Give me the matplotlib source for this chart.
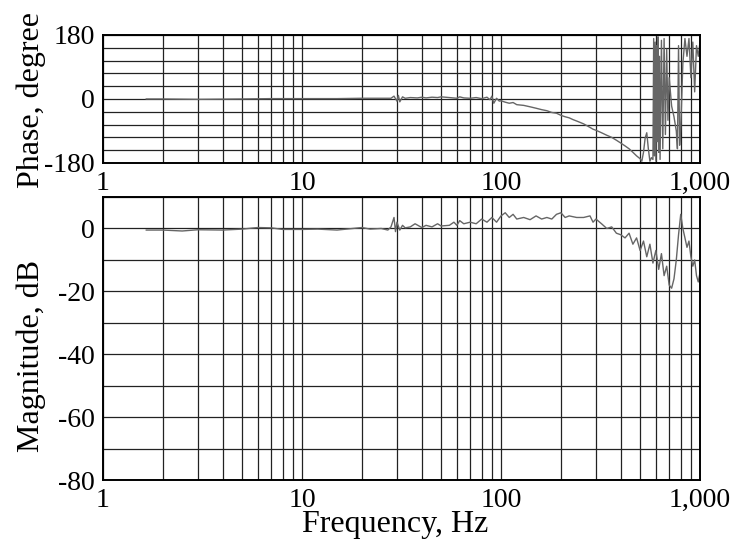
import numpy as np
import matplotlib.pyplot as plt
from matplotlib.ticker import FixedLocator, MultipleLocator, NullFormatter

plt.rcParams['font.family'] = ['Liberation Serif', 'DejaVu Serif']
plt.rcParams['axes.unicode_minus'] = False

# phase response, Hz / degree
phase_f = [1.65, 2, 3, 5, 7, 10, 15, 20, 25, 28, 29, 30, 30.5, 31, 32, 33, 35, 38,
           40, 42, 45, 48, 50, 55, 60, 62, 65, 70, 75, 80, 85, 88, 90, 92, 95, 98,
           100, 105, 110, 115, 120, 130, 140, 150, 160, 170, 180, 190, 200, 210,
           220, 230, 240, 250, 260, 270, 280, 290, 300, 320, 340, 360, 380, 400,
           420, 440, 460, 480, 500, 510, 520, 530, 540, 550, 560, 570, 580, 585,
           590, 595, 600, 605, 610, 615, 620, 625, 630, 640, 650, 660, 670, 680,
           690, 700, 720, 740, 760, 770, 780, 790, 800, 820, 840, 860, 880, 900,
           920, 940, 960, 980, 1000]
phase_deg = [0, 0, -1, 0, 1, 1, 1, 2, 2, 2, 8, -6, 10, -8, 6, 2, 4, 3,
             5, 3, 5, 4, 6, 4, 2, 6, 3, 2, 4, 1, 5, -2, 8, -12, 2, -6,
             -5, -9, -12, -10, -16, -18, -22, -26, -30, -33, -38, -40, -46, -50,
             -53, -58, -62, -66, -70, -75, -80, -85, -88, -95, -102, -108, -116, -124,
             -132, -140, -150, -160, -168, -175, -150, -110, -95, -140, -175, -165, -170, 170,
             -160, 160, -175, 150, -120, 175, -150, 120, -170, 165, -140, 170, -100, 140,
             -60, 60, -20, -50, -90, -140, 150, -130, -80, 100, 170, 120, 170, 60,
             160, 20, 150, 120, 160]

# magnitude response, Hz / dB
mag_f = [1.65, 2, 2.5, 3, 4, 5, 6, 7, 8, 10, 12, 15, 18, 20, 22, 25, 27, 28, 29,
         29.5, 30, 31, 32, 33, 35, 37, 40, 42, 45, 48, 50, 55, 58, 60, 62, 65, 70,
         75, 80, 85, 90, 95, 100, 105, 110, 115, 120, 130, 140, 150, 160, 170,
         180, 190, 200, 210, 220, 240, 260, 280, 290, 300, 320, 340, 360, 380,
         400, 420, 440, 460, 480, 500, 520, 540, 560, 580, 600, 620, 640, 660,
         680, 700, 720, 740, 760, 780, 800, 820, 840, 860, 880, 900, 920, 940,
         960, 980, 1000]
mag_db = [-0.5, -0.5, -0.8, -0.4, -0.5, -0.2, 0.3, 0.2, -0.3, -0.3, -0.2, -0.5, 0, 0.3, -0.2, 0, -0.5, 0.5, 3.5,
          -1, 2, -0.5, 1, 0.2, 0.5, 1.5, 0.3, 1, 0.5, 1.5, 0.8, 1, 2, 1, 2.5, 1.5, 2,
          1.5, 3, 2, 3.5, 2, 4, 5, 3.5, 4.5, 3, 3.5, 2.8, 4, 3, 3.5,
          3, 4.5, 5, 3.5, 4, 3.5, 3.5, 4, 2, 3, 1.5, 0, 0.5, -1.5,
          -2, -3, -1.5, -5, -3, -7, -4, -9, -5, -11, -7, -13, -8, -15,
          -12, -18, -19, -16, -10, -2, 4.5, 0, -3, -6, -4, -9, -12, -10,
          -15, -17, -14]

xticks = [1, 10, 100, 1000]
xlabels = ['1', '10', '100', '1,000']

fig = plt.figure(figsize=(7.33, 5.44), dpi=100)
ax1 = fig.add_axes([0.1405, 0.7004, 0.8145, 0.2353])
ax2 = fig.add_axes([0.1405, 0.1176, 0.8145, 0.5202])

line_kw = dict(color='#666666', lw=1.0)
ax1.plot(phase_f, phase_deg, **line_kw)
ax2.plot(mag_f, mag_db, **line_kw)

for ax in (ax1, ax2):
    ax.set_xscale('log')
    ax.set_xlim(1, 1000)
    ax.xaxis.set_major_locator(FixedLocator(xticks))
    ax.set_xticklabels(xlabels)
    ax.xaxis.set_minor_locator(FixedLocator([m * d for d in (1, 10, 100) for m in range(2, 10)]))
    ax.xaxis.set_minor_formatter(NullFormatter())
    ax.grid(True, which='both', color='#222222', lw=0.9)
    ax.tick_params(which='both', length=0, labelsize=20, pad=6)
    for s in ax.spines.values():
        s.set_linewidth(1.4)

ax1.set_ylim(-180, 180)
ax1.set_yticks([-180, 0, 180])
ax1.set_yticklabels(['-180', '0', '180'])
ax1.yaxis.set_minor_locator(MultipleLocator(36))
ax1.set_ylabel('Phase, degree', fontsize=23)
ax1.yaxis.set_label_coords(-0.096, 0.49)

ax2.set_ylim(-80, 10)
ax2.set_yticks([0, -20, -40, -60, -80])
ax2.set_yticklabels(['0', '-20', '-40', '-60', '-80'])
ax2.yaxis.set_minor_locator(MultipleLocator(10))
ax2.set_ylabel('Magnitude, dB', fontsize=23)
ax2.yaxis.set_label_coords(-0.096, 0.44)
ax2.set_xlabel('Frequency, Hz', fontsize=23, labelpad=-2)
ax2.xaxis.set_label_coords(0.49, -0.105)

fig.savefig('out.png', dpi=100)
